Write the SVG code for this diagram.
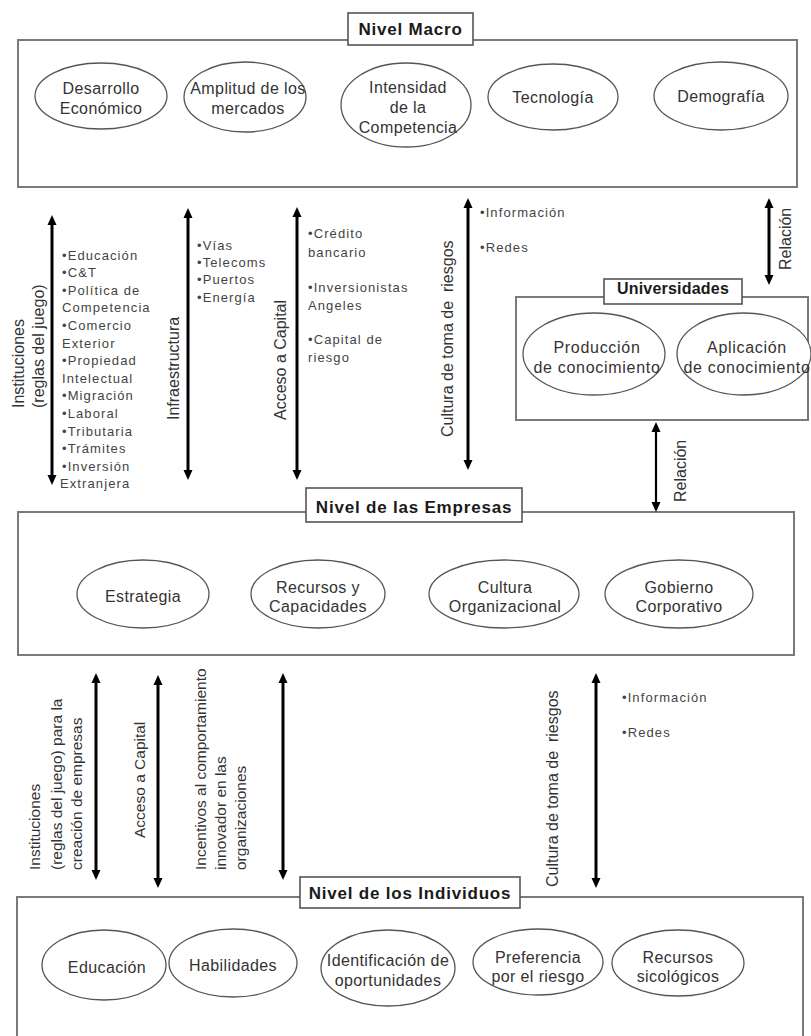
<svg xmlns="http://www.w3.org/2000/svg" width="811" height="1036" viewBox="0 0 811 1036">
<style>
.box{fill:none;stroke:#7a7a7a;stroke-width:2}
.lbl{fill:#fff;stroke:#555;stroke-width:1.6}
.ell{fill:#fff;stroke:#555;stroke-width:1.3}
.h{font-family:"Liberation Sans",Arial,sans-serif;font-weight:bold;font-size:17px;letter-spacing:0.8px;fill:#1a1a1a;text-anchor:middle}
.t{font-family:"Liberation Sans",Arial,sans-serif;font-size:16px;letter-spacing:0.4px;fill:#333;text-anchor:middle}
.r{font-family:"Liberation Sans",Arial,sans-serif;font-size:16px;fill:#333}
.r2{font-family:"Liberation Sans",Arial,sans-serif;font-size:15.5px;fill:#333}
.l{font-family:"Liberation Sans",Arial,sans-serif;font-size:13px;letter-spacing:1.1px;fill:#444}
.arr{stroke:#000;stroke-width:3;fill:none;marker-start:url(#ah);marker-end:url(#ah)}
.arr1{stroke:#000;stroke-width:2.2;fill:none;marker-start:url(#ah);marker-end:url(#ah)}
</style>
<defs>
<marker id="ah" markerUnits="userSpaceOnUse" markerWidth="11" markerHeight="10" refX="0" refY="4.5" orient="auto-start-reverse" overflow="visible">
<path d="M0,0 L10,4.5 L0,9 Z" fill="#000"/>
</marker>
</defs>

<g id="nivel-macro">
<rect class="box" x="18" y="40" width="779" height="147"/>
<rect class="lbl" x="348" y="13" width="125" height="32"/>
<text class="h" x="410.5" y="35">Nivel Macro</text>
</g>
<g id="desarrollo-economico">
<ellipse class="ell" cx="101" cy="96" rx="66" ry="33"/>
<text class="t" x="101" y="93.5">Desarrollo</text>
<text class="t" x="101" y="113.5">Económico</text>
</g>
<g id="amplitud-mercados">
<ellipse class="ell" cx="245" cy="97" rx="61" ry="35"/>
<text class="t" x="248" y="93.5">Amplitud de los</text>
<text class="t" x="248" y="113.5">mercados</text>
</g>
<g id="intensidad-competencia">
<ellipse class="ell" cx="406" cy="105" rx="65" ry="42"/>
<text class="t" x="408" y="92.5">Intensidad</text>
<text class="t" x="408" y="112.5">de la</text>
<text class="t" x="408" y="132.5">Competencia</text>
</g>
<g id="tecnologia">
<ellipse class="ell" cx="553" cy="97" rx="65" ry="33"/>
<text class="t" x="553" y="103">Tecnología</text>
</g>
<g id="demografia">
<ellipse class="ell" cx="721" cy="96" rx="67" ry="34"/>
<text class="t" x="721" y="102">Demografía</text>
</g>

<g id="universidades">
<rect class="box" x="516" y="297" width="292" height="123"/>
<rect class="lbl" x="604" y="279" width="138" height="25"/>
<text class="h" x="673" y="294" style="font-size:16px;letter-spacing:0.2px">Universidades</text>
</g>
<g id="produccion-conocimiento">
<ellipse class="ell" cx="594" cy="354" rx="71" ry="41"/>
<text class="t" x="597" y="352.5" style="letter-spacing:0.7px">Producción</text>
<text class="t" x="597" y="372.5" style="letter-spacing:0.7px">de conocimiento</text>
</g>
<g id="aplicacion-conocimiento">
<ellipse class="ell" cx="744" cy="354" rx="67" ry="41"/>
<text class="t" x="747" y="352.5" style="letter-spacing:0.7px">Aplicación</text>
<text class="t" x="747" y="372.5" style="letter-spacing:0.7px">de conocimiento</text>
</g>

<g id="nivel-empresas">
<rect class="box" x="18" y="512" width="776" height="143"/>
<rect class="lbl" x="306" y="488" width="216" height="34"/>
<text class="h" x="414" y="513">Nivel de las Empresas</text>
</g>
<g id="estrategia">
<ellipse class="ell" cx="143" cy="594" rx="66" ry="34"/>
<text class="t" x="143" y="602">Estrategia</text>
</g>
<g id="recursos-capacidades">
<ellipse class="ell" cx="318" cy="594" rx="67" ry="34"/>
<text class="t" x="318" y="592.5">Recursos y</text>
<text class="t" x="318" y="611.5">Capacidades</text>
</g>
<g id="cultura-organizacional">
<ellipse class="ell" cx="504" cy="594" rx="75" ry="34"/>
<text class="t" x="505" y="592.5">Cultura</text>
<text class="t" x="505" y="611.5">Organizacional</text>
</g>
<g id="gobierno-corporativo">
<ellipse class="ell" cx="679" cy="594" rx="74" ry="34"/>
<text class="t" x="679" y="592.5">Gobierno</text>
<text class="t" x="679" y="611.5">Corporativo</text>
</g>

<g id="nivel-individuos">
<rect class="box" x="17" y="897" width="786" height="150"/>
<rect class="lbl" x="300" y="877" width="220" height="31"/>
<text class="h" x="410" y="899">Nivel de los Individuos</text>
</g>
<g id="educacion">
<ellipse class="ell" cx="104" cy="965" rx="62" ry="35"/>
<text class="t" x="107" y="972.5">Educación</text>
</g>
<g id="habilidades">
<ellipse class="ell" cx="233" cy="963" rx="64" ry="34"/>
<text class="t" x="233" y="970.5">Habilidades</text>
</g>
<g id="identificacion-oportunidades">
<ellipse class="ell" cx="388" cy="968" rx="67" ry="38"/>
<text class="t" x="388" y="965.5">Identificación de</text>
<text class="t" x="388" y="985.5">oportunidades</text>
</g>
<g id="preferencia-riesgo">
<ellipse class="ell" cx="538" cy="962" rx="65" ry="33"/>
<text class="t" x="538" y="962.5">Preferencia</text>
<text class="t" x="538" y="981.5">por el riesgo</text>
</g>
<g id="recursos-sicologicos">
<ellipse class="ell" cx="678" cy="963" rx="66" ry="33"/>
<text class="t" x="678" y="962.5">Recursos</text>
<text class="t" x="678" y="981.5">sicológicos</text>
</g>

<g id="connectors">
<line class="arr" x1="52" y1="225" x2="52" y2="475"/>
<line class="arr" x1="188" y1="218" x2="188" y2="470"/>
<line class="arr" x1="297" y1="217" x2="297" y2="470"/>
<line class="arr" x1="468" y1="208" x2="468" y2="460"/>
<line class="arr" x1="769" y1="208" x2="769" y2="275"/>
<line class="arr1" x1="656" y1="432" x2="656" y2="502"/>
<line class="arr" x1="96" y1="683" x2="96" y2="870"/>
<line class="arr" x1="158" y1="685" x2="158" y2="878"/>
<line class="arr" x1="283" y1="683" x2="283" y2="870"/>
<line class="arr" x1="596" y1="683" x2="596" y2="878"/>
</g>

<g id="connector-labels">
<text class="r" transform="translate(24,408) rotate(-90)">Instituciones</text>
<text class="r" transform="translate(44,408) rotate(-90)">(reglas del juego)</text>
<text class="l" x="62"><tspan x="62" y="259.5">•Educación</tspan><tspan x="62" y="277.1">•C&amp;T</tspan><tspan x="62" y="294.7">•Política de</tspan><tspan x="62" y="312.3">Competencia</tspan><tspan x="62" y="329.9">•Comercio</tspan><tspan x="62" y="347.5">Exterior</tspan><tspan x="62" y="365.1">•Propiedad</tspan><tspan x="62" y="382.7">Intelectual</tspan><tspan x="62" y="400.3">•Migración</tspan><tspan x="62" y="417.9">•Laboral</tspan><tspan x="62" y="435.5">•Tributaria</tspan><tspan x="62" y="453.1">•Trámites</tspan><tspan x="62" y="470.7">•Inversión</tspan><tspan x="60" y="488.3">Extranjera</tspan></text>

<text class="r" transform="translate(179,420) rotate(-90)">Infraestructura</text>
<text class="l"><tspan x="197" y="249.5">•Vías</tspan><tspan x="197" y="266.5">•Telecoms</tspan><tspan x="197" y="284">•Puertos</tspan><tspan x="197" y="301.5">•Energía</tspan></text>

<text class="r" transform="translate(286,420) rotate(-90)">Acceso a Capital</text>
<text class="l"><tspan x="308" y="237.5">•Crédito</tspan><tspan x="308" y="256.5">bancario</tspan><tspan x="308" y="291.5">•Inversionistas</tspan><tspan x="308" y="309.5">Angeles</tspan><tspan x="308" y="343.5">•Capital de</tspan><tspan x="308" y="361.5">riesgo</tspan></text>

<text class="r" transform="translate(453,437) rotate(-90)" xml:space="preserve">Cultura de toma de  riesgos</text>
<text class="l"><tspan x="480" y="216.5">•Información</tspan><tspan x="480" y="251.5">•Redes</tspan></text>

<text class="r" transform="translate(791,270) rotate(-90)">Relación</text>
<text class="r" transform="translate(686,502) rotate(-90)">Relación</text>

<text class="r2" transform="translate(40,870) rotate(-90)">Instituciones</text>
<text class="r2" transform="translate(62,870) rotate(-90)">(reglas del juego) para la</text>
<text class="r2" transform="translate(82,870) rotate(-90)">creación de empresas</text>

<text class="r2" transform="translate(145,838) rotate(-90)">Acceso a Capital</text>

<text class="r2" transform="translate(206,870) rotate(-90)">Incentivos al comportamiento</text>
<text class="r2" transform="translate(226,870) rotate(-90)">innovador en las</text>
<text class="r2" transform="translate(246,870) rotate(-90)">organizaciones</text>

<text class="r" transform="translate(558,887) rotate(-90)" xml:space="preserve">Cultura de toma de  riesgos</text>
<text class="l"><tspan x="622" y="701.5">•Información</tspan><tspan x="622" y="736.5">•Redes</tspan></text>
</g>
</svg>
